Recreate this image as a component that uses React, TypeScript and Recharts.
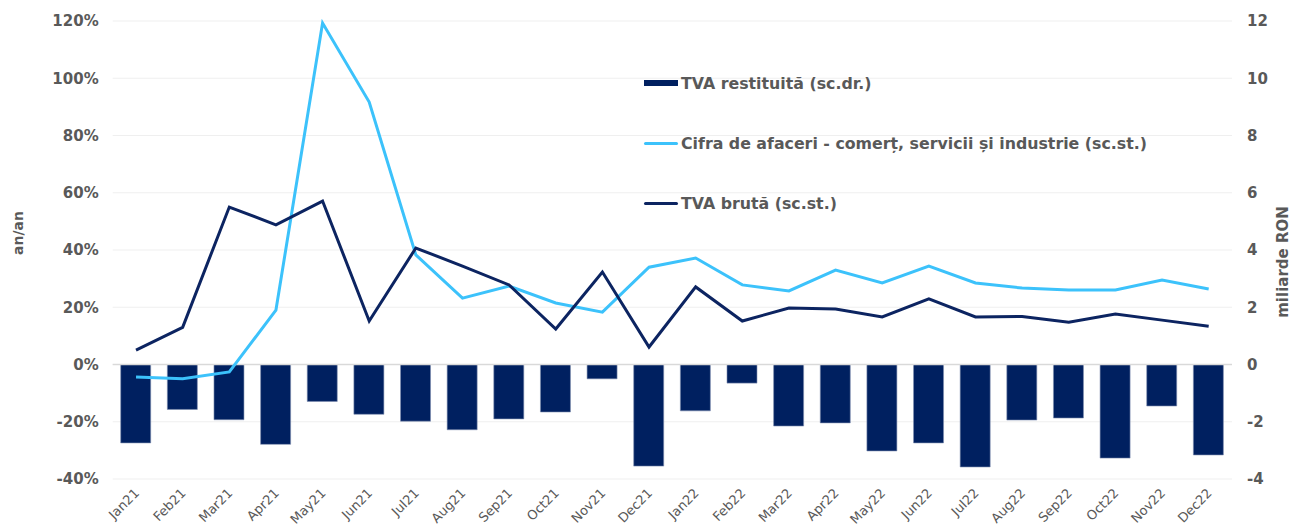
import React from 'react';
import { ComposedChart, Bar, Line, XAxis, YAxis, CartesianGrid, ReferenceLine } from 'recharts';

const months = ['Jan21','Feb21','Mar21','Apr21','May21','Jun21','Jul21','Aug21','Sep21','Oct21','Nov21','Dec21','Jan22','Feb22','Mar22','Apr22','May22','Jun22','Jul22','Aug22','Sep22','Oct22','Nov22','Dec22'];
const tvaRestituita = [-2.74,-1.57,-1.93,-2.79,-1.29,-1.74,-1.98,-2.28,-1.9,-1.66,-0.5,-3.55,-1.62,-0.65,-2.15,-2.04,-3.02,-2.74,-3.58,-1.94,-1.87,-3.27,-1.45,-3.16];
const cifraAfaceri = [-4.4,-5.0,-2.6,19,119.3,91.7,38.3,23.2,27.4,21.5,18.3,34,37.2,27.8,25.7,33,28.5,34.4,28.5,26.7,26,26,29.5,26.4];
const tvaBruta = [5,13,55,48.8,57.1,15.2,40.7,34.4,27.8,12.4,32.3,6.1,27.1,15.2,19.7,19.4,16.6,22.9,16.6,16.8,14.8,17.6,15.5,13.4];
const leftTicks = [-40,-20,0,20,40,60,80,100,120];
const rightTicks = [-4,-2,0,2,4,6,8,10,12];

const seriesNames = {
  bar: 'TVA restituită (sc.dr.)',
  cifra: 'Cifra de afaceri - comerț, servicii și industrie (sc.st.)',
  bruta: 'TVA brută (sc.st.)',
};

const data = months.map((m, i) => ({
  month: m,
  restituita: tvaRestituita[i],
  cifra: cifraAfaceri[i],
  bruta: tvaBruta[i],
}));

const NAVY = '#002060';
const NAVY_LINE = '#0c2461';
const LIGHT = '#3CC2FB';
const GRAY = '#595959';
const FONT = '"DejaVu Sans", Verdana, sans-serif';

const XTick = (props: any) => {
  const { x, y, payload } = props;
  return (
    <g transform={`translate(${x + 4},${y + 15})`}>
      <text x={0} y={0} textAnchor="end" transform="rotate(-45)" fill={GRAY} fontSize={13} fontFamily={FONT}>
        {payload.value}
      </text>
    </g>
  );
};

const legendItems = [
  { name: seriesNames.bar, color: NAVY, h: 6 },
  { name: seriesNames.cifra, color: LIGHT, h: 3 },
  { name: seriesNames.bruta, color: NAVY_LINE, h: 3 },
];

const LegendOverlay = () => (
  <div style={{ position: 'absolute', left: 644, top: 73, fontFamily: FONT }}>
    {legendItems.map((it, i) => (
      <div key={i} style={{ position: 'absolute', left: 0, top: i * 60, height: 20, display: 'flex', alignItems: 'center', whiteSpace: 'nowrap' }}>
        <div style={{ width: 34, height: it.h, background: it.color, borderRadius: it.h < 5 ? 2 : 0 }} />
        <span style={{ marginLeft: 3, color: GRAY, fontWeight: 'bold', fontSize: 15.8 }}>{it.name}</span>
      </div>
    ))}
  </div>
);

export default function App() {
  return (
    <div style={{ position: 'absolute', left: 0, top: 0, width: 1294, height: 526, background: '#fff' }}>
      <ComposedChart width={1294} height={526} data={data} margin={{ top: 21, right: 0, bottom: 0, left: 0 }}>
        <CartesianGrid yAxisId="left" vertical={false} stroke="#efefef" strokeWidth={1} />
        <XAxis dataKey="month" height={47} axisLine={false} tickLine={false} tickSize={0} tickMargin={0} interval={0} tick={<XTick />} />
        <YAxis
          yAxisId="left"
          orientation="left"
          width={112.7}
          domain={[-40, 120]}
          ticks={leftTicks}
          tickFormatter={(v: number) => `${v}%`}
          axisLine={false}
          tickLine={false}
          tickSize={0}
          tickMargin={14}
          tick={{ fill: GRAY, fontSize: 15, fontWeight: 'bold', fontFamily: FONT }}
          label={() => (
            <text x={0} y={0} transform="translate(23,233) rotate(-90)" textAnchor="middle" fill={GRAY} fontSize={14} fontWeight="bold" fontFamily={FONT}>an/an</text>
          )}
        />
        <YAxis
          yAxisId="right"
          orientation="right"
          width={62}
          domain={[-4, 12]}
          ticks={rightTicks}
          axisLine={false}
          tickLine={false}
          tickSize={0}
          tickMargin={15}
          tick={{ fill: GRAY, fontSize: 15, fontWeight: 'bold', fontFamily: FONT }}
          label={() => (
            <text x={0} y={0} transform="translate(1288,262) rotate(-90)" textAnchor="middle" fill={GRAY} fontSize={15} fontWeight="bold" fontFamily={FONT}>miliarde RON</text>
          )}
        />
        <ReferenceLine yAxisId="left" y={0} stroke="#d9d9d9" strokeWidth={1.5} />
        <Bar yAxisId="right" dataKey="restituita" name={seriesNames.bar} fill={NAVY} stroke="#7f8fb0" strokeWidth={0.6} barSize={30} isAnimationActive={false} />
        <Line yAxisId="left" dataKey="cifra" name={seriesNames.cifra} stroke={LIGHT} strokeWidth={3} dot={false} isAnimationActive={false} type="linear" />
        <Line yAxisId="left" dataKey="bruta" name={seriesNames.bruta} stroke={NAVY_LINE} strokeWidth={3} dot={false} isAnimationActive={false} type="linear" />
      </ComposedChart>
      <LegendOverlay />
    </div>
  );
}
